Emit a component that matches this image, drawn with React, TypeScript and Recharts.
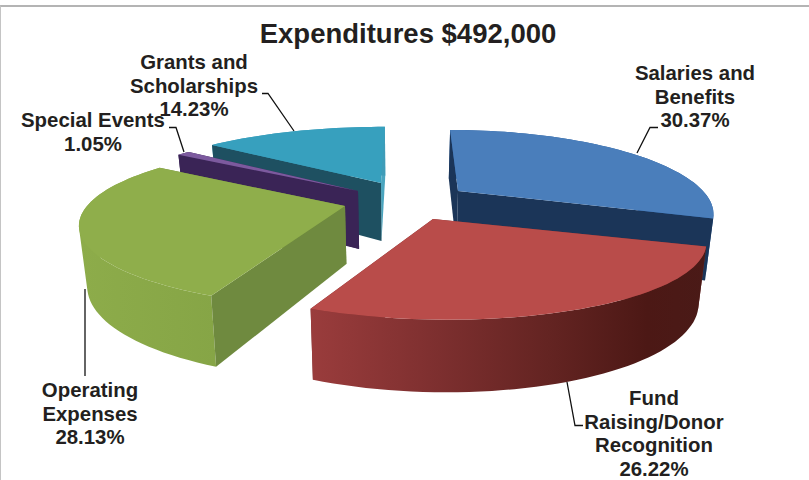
import React from "react";
import { PieChart, Pie } from "recharts";

const title = "Expenditures $492,000";
// order is the paint order: pie runs counter-clockwise so nearer slices land on top
const categories = ["Salaries and Benefits", "Grants and Scholarships", "Special Events", "Operating Expenses", "Fund Raising/Donor Recognition"];
const percents = [30.37, 14.23, 1.05, 28.13, 26.22];
const labelLines = [
  ["Salaries and", "Benefits", "30.37%"],
  ["Grants and", "Scholarships", "14.23%"],
  ["Special Events", "1.05%"],
  ["Operating", "Expenses", "28.13%"],
  ["Fund", "Raising/Donor", "Recognition", "26.22%"],
];

const WIDTH = 809;
const HEIGHT = 480;
const PERSPECTIVE = 0.245;
const DEPTH = 58;
const VANISH_X = 400;

// where each exploded slice sits on screen and how it is shaded
const sliceStyles = [
  { ax: 458, ay: 191, rx: 245, ry: 76, skew: 0.13, top: "#4a7ebb", arc: "#2a5f9e", start: "#1b3558", end: "#1b3558" },
  { ax: 381, ay: 183, rx: 254, ry: 70, skew: -0.07, top: "#37a0be", arc: "#3f9cb8", start: "#1e5061", end: "#4aa5bf" },
  { ax: 358, ay: 191, rx: 250, ry: 72, skew: 0, top: "#7c5a9e", arc: "#3a2456", start: "#3a2456", end: "#3a2456" },
  { ax: 345, ay: 206, rx: 258, ry: 76, skew: 0, top: "#8fae4b", arc: "url(#greenWall)", start: "#6f8a3f", end: "#6f8a3f" },
  { ax: 433, ay: 219, rx: 262, ry: 76, skew: 0.15, top: "#b94c4a", arc: "url(#redWall)", start: "#7a2e2e", end: "#7a2e2e" },
];

const labelStyles = [
  { x: 695, y: 80, leader: "M637 153 L650 127.500 L658 127.500" },
  { x: 194, y: 69, leader: "M294 131 L268 93.500 L262 93.500" },
  { x: 93, y: 127, leader: "M184 152 L176 127.500 L169 127.500" },
  { x: 90, y: 397, leader: "M85 289 L85 376" },
  { x: 654, y: 405, leader: "M567 382 L575 425.500 L583 425.500" },
];

type Pt = { x: number; y: number };

const rad = (deg: number) => (deg * Math.PI) / 180;

const project = (s: any, theta: number): Pt => {
  const c = Math.cos(rad(theta));
  const f = 1 / (1 + PERSPECTIVE * c);
  const dy = -c * s.ry * f;
  const dx = Math.sin(rad(theta)) * s.rx * f + s.skew * dy;
  return { x: s.ax + dx, y: s.ay + dy };
};

const lower = (p: Pt, theta: number | null): Pt => {
  const f = theta === null ? 1 : 1 / (1 + PERSPECTIVE * Math.cos(rad(theta)));
  return { x: p.x + (VANISH_X - p.x) * 0.026, y: p.y + DEPTH * Math.pow(f, 0.8) };
};

const toPath = (pts: Pt[]) =>
  pts.map((p, i) => `${i ? "L" : "M"}${p.x.toFixed(1)} ${p.y.toFixed(1)}`).join(" ") + " Z";

// same winding for every quad, otherwise overlaps cancel out under nonzero fill
const wound = (pts: Pt[]) => {
  let area = 0;
  pts.forEach((p, i) => {
    const q = pts[(i + 1) % pts.length];
    area += p.x * q.y - q.x * p.y;
  });
  return area < 0 ? pts.slice().reverse() : pts;
};

// Recharts gives the angles, this turns each sector into a tilted 3D wedge
const WedgeShape = (props: any) => {
  const s = sliceStyles[props.index];
  const t1 = 90 - Math.max(props.startAngle, props.endAngle);
  const t2 = 90 - Math.min(props.startAngle, props.endAngle);
  const thetas: number[] = [];
  const steps = Math.max(4, Math.ceil((t2 - t1) / 2));
  for (let i = 0; i <= steps; i++) thetas.push(t1 + ((t2 - t1) * i) / steps);

  const apex = { x: s.ax, y: s.ay };
  const apexLow = lower(apex, null);
  const rim = thetas.map((t) => project(s, t));
  const rimLow = rim.map((p, i) => lower(p, thetas[i]));
  const startFace = toPath([apex, rim[0], rimLow[0], apexLow]);
  const endFace = toPath([apex, rim[steps], rimLow[steps], apexLow]);
  // one quad per step, the two rims cross where the wall turns away
  const arcWall = rim
    .slice(0, steps)
    .map((p, i) => toPath(wound([p, rim[i + 1], rimLow[i + 1], rimLow[i]])))
    .join(" ");
  const startFront = Math.sin(rad(t1)) <= 0.001;
  const endFront = Math.sin(rad(t2)) > 0.001;

  return (
    <g>
      {!startFront && <path d={startFace} fill={s.start} />}
      {!endFront && <path d={endFace} fill={s.end} />}
      <path d={arcWall} fill={s.arc} />
      {startFront && <path d={startFace} fill={s.start} />}
      {endFront && <path d={endFace} fill={s.end} />}
      <path d={toPath([apex, ...rim])} fill={s.top} />
    </g>
  );
};

const renderLabel = (props: any) => {
  const l = labelStyles[props.index];
  return (
    <g>
      <path d={l.leader} fill="none" stroke="#111" strokeWidth={1.3} />
      <text textAnchor="middle" fontFamily="Liberation Sans" fontWeight="bold" fontSize={20.4} fill="#231f20">
        {labelLines[props.index].map((line, i) => (
          <tspan key={i} x={l.x} y={l.y + i * 23.7}>
            {line}
          </tspan>
        ))}
      </text>
    </g>
  );
};

const data = categories.map((name, i) => ({ name, value: percents[i] }));

export default function App() {
  const firstAngle = 90 - percents[0] * 3.6;
  return (
    <div style={{ position: "absolute", left: 0, top: 0, width: WIDTH, height: HEIGHT, background: "#fff" }}>
      <div
        style={{
          position: "absolute",
          left: 0,
          top: 5,
          width: WIDTH,
          height: HEIGHT - 5,
          boxSizing: "border-box",
          borderTop: "2px solid #b4b4b4",
          borderLeft: "1px solid #c4c4c4",
        }}
      />
      <PieChart width={WIDTH} height={HEIGHT} style={{ position: "absolute", left: 0, top: 0 }}>
        <defs>
          <linearGradient id="redWall" x1="0" y1="0" x2="1" y2="0">
            <stop offset="0" stopColor="#9a3c3c" />
            <stop offset="0.3" stopColor="#7f3030" />
            <stop offset="0.6" stopColor="#642422" />
            <stop offset="0.85" stopColor="#4c1815" />
            <stop offset="1" stopColor="#4a1a17" />
          </linearGradient>
          <linearGradient id="greenWall" x1="0" y1="0" x2="1" y2="0">
            <stop offset="0" stopColor="#8dac4a" />
            <stop offset="1" stopColor="#86a546" />
          </linearGradient>
        </defs>
        <text x={408} y={43} textAnchor="middle" fontFamily="Liberation Sans" fontWeight="bold" fontSize={27.5} fill="#231f20">
          {title}
        </text>
        <Pie
          data={data}
          dataKey="value"
          nameKey="name"
          cx={400}
          cy={240}
          outerRadius={200}
          startAngle={firstAngle}
          endAngle={firstAngle + 360}
          stroke="none"
          shape={WedgeShape}
          label={renderLabel}
          labelLine={false}
          isAnimationActive={false}
        />
      </PieChart>
    </div>
  );
}
